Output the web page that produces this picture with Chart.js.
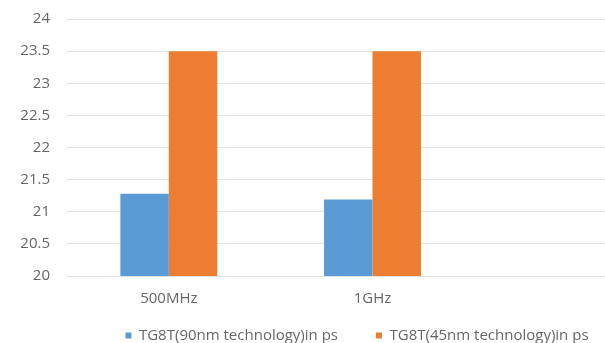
<!DOCTYPE html>
<html>
<head>
<meta charset="utf-8">
<script src="https://cdn.jsdelivr.net/npm/chart.js@4/dist/chart.umd.min.js"></script>
<style>
  html, body { margin: 0; padding: 0; background: #fff; overflow: hidden; }
  #wrap { width: 720px; height: 343px; }
</style>
</head>
<body>
<div id="wrap"><canvas id="delayChart" width="720" height="343"></canvas></div>
<script>
// frequency groups (third slot left empty, as in the sheet)
const frequencies = ['500MHz', '1GHz', ''];
// delay in ps
const tg8t90nm = [21.28, 21.19, null];
const tg8t45nm = [23.5, 23.5, null];

const yMin = 20;
const yMax = 24;
const yStep = 0.5;

const textColor = '#666666';
const fontFamily = '"Open Sans", "Noto Sans", sans-serif';

// the legend row sits a little right of centre and tucked up under the axis labels
const legendShift = {
  id: 'legendShift',
  afterLayout(chart) {
    const lg = chart.legend;
    lg.left += 10;
    lg.right += 10;
    lg.top -= 18;
    lg.bottom -= 18;
  }
};

const delayChart = new Chart(document.getElementById('delayChart'), {
  type: 'bar',
  data: {
    labels: frequencies,
    datasets: [
      {
        label: 'TG8T(90nm technology)in ps',
        data: tg8t90nm,
        backgroundColor: '#5b9bd5',
        borderWidth: 0,
        barPercentage: 1,
        categoryPercentage: 0.476
      },
      {
        label: 'TG8T(45nm technology)in ps',
        data: tg8t45nm,
        backgroundColor: '#ed7d31',
        borderWidth: 0,
        barPercentage: 1,
        categoryPercentage: 0.476
      }
    ]
  },
  plugins: [legendShift],
  options: {
    responsive: false,
    animation: false,
    layout: {
      padding: { top: 19, left: 16, right: 42, bottom: -28 }
    },
    plugins: {
      tooltip: { enabled: false },
      legend: {
        position: 'bottom',
        labels: {
          color: textColor,
          font: { family: fontFamily, size: 15 },
          boxWidth: 6,
          boxHeight: 6,
          padding: 38
        }
      }
    },
    scales: {
      x: {
        grid: { display: false, drawTicks: false },
        border: { display: false },
        ticks: {
          color: textColor,
          font: { family: fontFamily, size: 15 },
          padding: 14
        },
        afterFit: function(scale) {
          scale.height = 32;
        }
      },
      y: {
        min: yMin,
        max: yMax,
        grid: { color: '#e3e3e3', drawTicks: true, tickLength: 14, tickColor: 'rgba(0,0,0,0)' },
        border: { display: false },
        ticks: {
          stepSize: yStep,
          color: textColor,
          font: { family: fontFamily, size: 15 },
          padding: 3,
          callback: value => String(value)
        },
        afterFit: function(scale) {
          scale.width = 51;
        }
      }
    }
  }
});
</script>
</body>
</html>
